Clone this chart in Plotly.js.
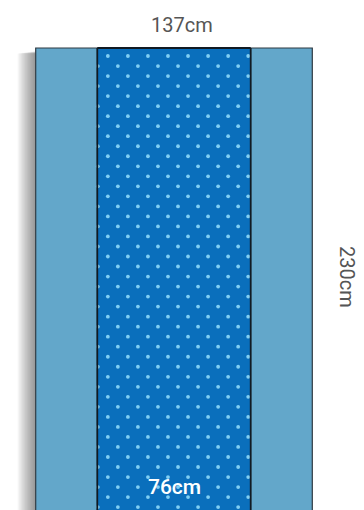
<!DOCTYPE html>
<html>
<head>
<meta charset="utf-8">
<script src="https://cdn.plot.ly/plotly-3.0.1.min.js"></script>
<style>html,body{margin:0;padding:0;background:#fff;}#chart{width:364px;height:510px;}</style>
</head>
<body>
<div id="chart"></div>
<script>
// Drape dimensions (cm)
const drapeWidth = 137;
const drapeLength = 230;
const panelWidth = 76;
const labels = ["137cm", "230cm", "76cm"];

// Dot texture pitch (cm)
const dotPitchX = 9.93;
const dotPitchY = 4.965;
const dotOffsetY = 3.97;

const W = 364, H = 510;
const s = 276.6 / drapeWidth;          // px per cm
const leftPx = 35.7, topPx = 48;        // px of drape corner
const xr = [-leftPx / s, (W - leftPx) / s];
const yr = [(H - topPx) / s, -topPx / s];

const p0 = (drapeWidth - panelWidth) / 2;
const p1 = p0 + panelWidth;

// texture points
const dx = [], dy = [];
for (let r = 0; dotOffsetY + r * dotPitchY < drapeLength; r++) {
  const y = dotOffsetY + r * dotPitchY;
  const start = p0 + (r % 2 === 0 ? 0.27 + dotPitchX / 2 : 0.27);
  for (let x = start; x < p1 - 0.3; x += dotPitchX) { dx.push(x); dy.push(y); }
}

const shapes = [];
// shadow on left side
for (let k = 1; k <= 12; k++) {
  shapes.push({type: 'rect', layer: 'below', xref: 'x', yref: 'y',
    x0: -k * 1.5 / s, x1: 0, y0: 1.5 + 0.1 * k, y1: drapeLength + 10,
    fillcolor: 'rgba(0,0,0,0.04)', line: {width: 0}});
}
// side panels
shapes.push({type: 'rect', layer: 'below', x0: 0, x1: drapeWidth, y0: 0, y1: drapeLength,
  fillcolor: '#63a7ca', line: {color: '#2f3a42', width: 1.2}});
// center panel
shapes.push({type: 'rect', layer: 'below', x0: p0, x1: p1, y0: 0, y1: drapeLength,
  fillcolor: '#0a6fbc', line: {width: 0}});
// panel border lines
shapes.push({type: 'line', layer: 'above', x0: p0, x1: p0, y0: 0, y1: drapeLength, line: {color: '#111a22', width: 1.8}});
shapes.push({type: 'line', layer: 'above', x0: p1, x1: p1, y0: 0, y1: drapeLength, line: {color: '#111a22', width: 1.8}});
shapes.push({type: 'line', layer: 'above', x0: p0, x1: p1, y0: 0, y1: 0, line: {color: '#111a22', width: 1.8}});

const data = [{
  type: 'scatter', mode: 'markers', x: dx, y: dy,
  marker: {size: 3.8, color: '#80cff4', line: {width: 0}},
  hoverinfo: 'skip'
}];

const font = 'Roboto, "Noto Sans", sans-serif';
const annotations = [
  {x: drapeWidth / 2 + 4, y: -11.6, text: labels[0], showarrow: false,
   font: {family: font, size: 20, color: '#555555'}},
  {x: drapeWidth + 17.2, y: drapeLength / 2 - 1.5, text: labels[1], showarrow: false, textangle: 90,
   font: {family: font, size: 20, color: '#555555'}},
  {x: drapeWidth / 2, y: 217.5, text: labels[2], showarrow: false,
   font: {family: font, size: 21, color: '#ffffff', weight: 500}}
];

const layout = {
  width: W, height: H,
  margin: {l: 0, r: 0, t: 0, b: 0, pad: 0},
  paper_bgcolor: '#ffffff', plot_bgcolor: '#ffffff',
  showlegend: false,
  xaxis: {range: xr, visible: false, fixedrange: true},
  yaxis: {range: yr, visible: false, fixedrange: true},
  shapes: shapes,
  annotations: annotations
};

Plotly.newPlot('chart', data, layout, {staticPlot: true, displayModeBar: false});
</script>
</body>
</html>
